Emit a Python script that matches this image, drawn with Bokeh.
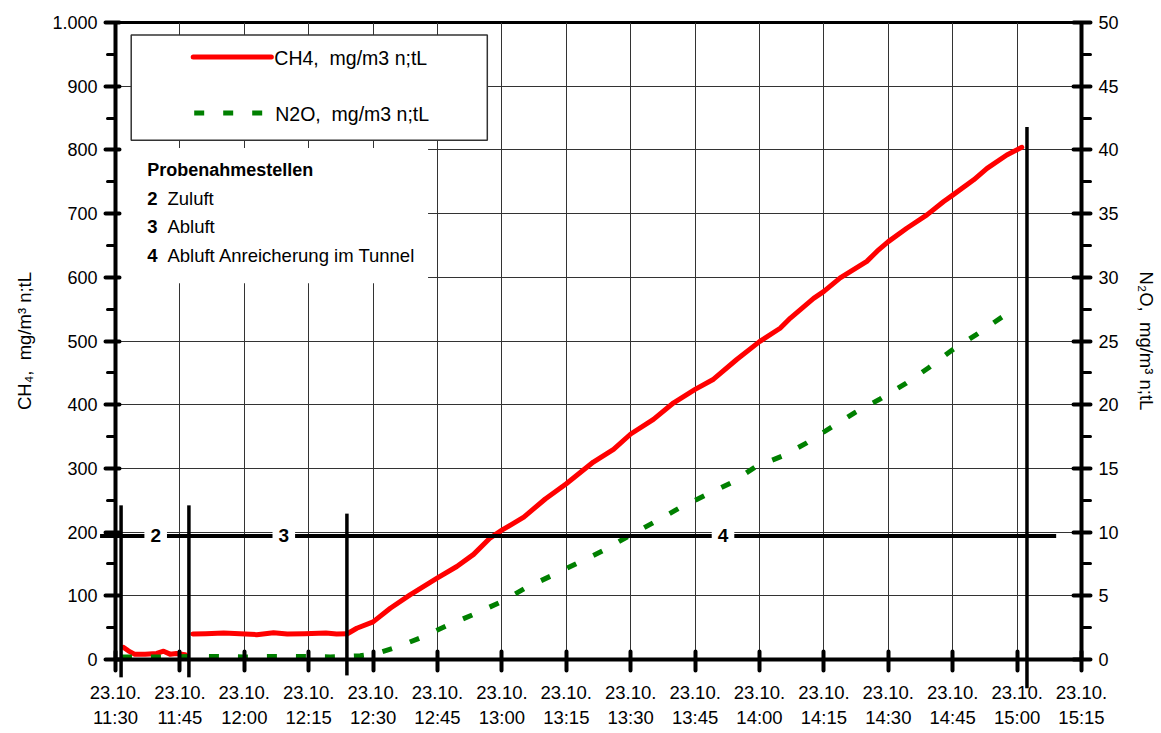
from bokeh.plotting import figure
from bokeh.models import LinearAxis, Range1d, FixedTicker, Label
from bokeh.core.properties import value
from bokeh.embed import file_html
from bokeh.resources import INLINE

FONT = "Liberation Sans, Arial, sans-serif"
NB = "\u00a0"

# ---------------- data ----------------
# x = minutes after 23.10. 11:30
tick_minutes = [0, 15, 30, 45, 60, 75, 90, 105, 120, 135, 150, 165, 180, 195, 210, 225]
tick_times = ["11:30", "11:45", "12:00", "12:15", "12:30", "12:45", "13:00", "13:15",
              "13:30", "13:45", "14:00", "14:15", "14:30", "14:45", "15:00", "15:15"]
tick_labels = ["23.10.\n" + t for t in tick_times]

ch4_ticks = [0, 100, 200, 300, 400, 500, 600, 700, 800, 900, 1000]
ch4_minor = [50, 150, 250, 350, 450, 550, 650, 750, 850, 950]
ch4_tick_labels = ["0", "100", "200", "300", "400", "500", "600", "700", "800", "900", "1.000"]
n2o_ticks = [0, 5, 10, 15, 20, 25, 30, 35, 40, 45, 50]
n2o_minor = [2.5, 7.5, 12.5, 17.5, 22.5, 27.5, 32.5, 37.5, 42.5, 47.5]

# CH4, mg/m3 (left axis) - sampling point 2 (Zuluft)
ch4_zuluft_t = [1.9, 3.0, 4.4, 6.9, 9.6, 11.2, 12.7, 14.2, 16.2]
ch4_zuluft = [19, 13.6, 8.4, 8.4, 9.5, 13, 8.4, 9.5, 7.4]
# sampling point 3 (Abluft)
ch4_abluft_t = [18.0, 21, 25.2, 29, 32.9, 36.8, 40, 44, 49, 51.5, 53.9]
ch4_abluft = [40, 40.5, 41.6, 40.5, 39, 42, 40, 40.5, 41.6, 40, 40.5]
# sampling point 4 (Abluft Anreicherung im Tunnel)
ch4_tunnel_t = [53.9, 56.2, 60, 64, 68.6, 75, 79.5, 83.4, 87.3, 90, 95.1, 100.1, 105, 111.3,
                116, 120, 125.3, 130, 135, 139.3, 144.7, 150, 154.8, 157.2, 162.6, 165, 168.8,
                175, 177.4, 180, 184.3, 189, 192.9, 195, 199.9, 203, 207.6, 211.1]
ch4_tunnel = [40, 49, 59, 80.5, 101.5, 128, 146, 165, 191, 203, 223.5, 252, 276, 310,
              330, 354, 377, 403, 424, 440, 471, 499, 520, 536, 567, 578, 599,
              625, 641, 656, 677, 698, 719, 729, 753, 771, 792, 804]

# N2O, mg/m3 (right axis)
n2o_t = [1.5, 10, 20, 30, 40, 50, 54, 57, 59.2, 62, 65.7, 71, 77.5, 83.8, 90, 95.4, 101.7,
         107.8, 113.6, 119.6, 125.6, 131.4, 137.4, 143.6, 149, 155.2, 161, 166.6, 172.3,
         178.1, 184, 189.4, 194.8, 200.5, 207.0]
n2o = [0.2, 0.2, 0.25, 0.2, 0.25, 0.2, 0.25, 0.3, 0.4, 0.6, 1.0, 1.7, 2.7, 3.6, 4.55, 5.6, 6.6,
       7.6, 8.55, 9.7, 10.8, 11.9, 12.9, 13.9, 15.1, 15.95, 17.0, 18.2, 19.4,
       20.45, 21.65, 22.9, 24.27, 25.5, 27.0]

# sampling point change markers
switch_t = [1.3, 17.1, 53.9, 212.3]
switch_bottom = [-28, -28, -25, -45]
switch_top = [242, 242, 229, 836]
section_names = ["2", "3", "4"]
section_label_t = [9.36, 39.2, 141.5]
section_bar_level = 194

legend_labels = ["CH4," + NB + " mg/m3 n;tL", "N2O," + NB + " mg/m3 n;tL"]
probe_title = "Probenahmestellen"
probe_ids = ["2", "3", "4"]
probe_names = ["Zuluft", "Abluft", "Abluft Anreicherung im Tunnel"]

# ---------------- figure ----------------
p = figure(frame_width=966, frame_height=637,
           x_range=Range1d(0, 225), y_range=Range1d(0, 1000),
           output_backend="svg", toolbar_location=None,
           min_border_left=115, min_border_right=80, min_border_top=22, min_border_bottom=72,
           background_fill_color="white", border_fill_color="white")
p.extra_y_ranges = {"n2o": Range1d(0, 50)}
p.outline_line_color = "black"
p.outline_line_width = 3

def style_axis(ax, size="18px"):
    ax.axis_line_color = "black"
    ax.axis_line_width = 4
    ax.major_tick_line_color = "black"
    ax.major_tick_line_width = 4
    ax.major_tick_line_cap = "round"
    ax.minor_tick_line_color = "black"
    ax.minor_tick_line_width = 3
    ax.minor_tick_line_cap = "round"
    ax.major_label_text_font = FONT
    ax.major_label_text_font_size = size
    ax.major_label_text_color = "black"
    ax.axis_label_text_font = FONT
    ax.axis_label_text_font_size = "18.5px"
    ax.axis_label_text_font_style = "normal"
    ax.axis_label_text_color = "black"

xa = p.xaxis[0]
style_axis(xa, "18.5px")
xa.ticker = FixedTicker(ticks=tick_minutes)
xa.major_label_overrides = dict(zip(tick_minutes, tick_labels))
xa.major_tick_in = 8
xa.major_tick_out = 11
xa.minor_tick_line_color = None
xa.major_label_standoff = 11

ya = p.yaxis[0]
style_axis(ya)
ya.ticker = FixedTicker(ticks=ch4_ticks, minor_ticks=ch4_minor)
ya.major_label_overrides = dict(zip(ch4_ticks, ch4_tick_labels))
ya.major_tick_in = 4
ya.major_tick_out = 10
ya.minor_tick_in = 0
ya.minor_tick_out = 8
ya.major_label_standoff = 8
ya.axis_label = "CH₄," + NB + " mg/m³ n;tL"
ya.axis_label_standoff = 14

ra = LinearAxis(y_range_name="n2o", ticker=FixedTicker(ticks=n2o_ticks, minor_ticks=n2o_minor),
                axis_label="N₂O," + NB + " mg/m³ n;tL")
style_axis(ra)
ra.major_tick_in = 8
ra.major_tick_out = 9
ra.minor_tick_in = 0
ra.minor_tick_out = 9
ra.major_label_standoff = 8
ra.axis_label_standoff = 14
p.add_layout(ra, "right")

for g in (p.xgrid[0], p.ygrid[0]):
    g.grid_line_color = "#333333"
    g.grid_line_width = 1
p.xgrid[0].ticker = xa.ticker
p.ygrid[0].ticker = ya.ticker

# ---------------- data lines ----------------
for tt, vv in ((ch4_zuluft_t, ch4_zuluft), (ch4_abluft_t, ch4_abluft), (ch4_tunnel_t, ch4_tunnel)):
    p.line(tt, vv, line_color="#ff0000", line_width=5, line_join="round", line_cap="round")
p.line(n2o_t, n2o, y_range_name="n2o", line_color="#008000", line_width=5, line_dash="10 19")

# ---------------- sampling-point markers ----------------
p.segment(x0=switch_t, y0=switch_bottom, x1=switch_t, y1=switch_top,
          line_color="black", line_width=3.5, level="annotation")
p.segment(x0=[-3.6], y0=[section_bar_level], x1=[219.1], y1=[section_bar_level],
          line_color="black", line_width=4, level="annotation")
for name, t in zip(section_names, section_label_t):
    p.add_layout(Label(x=t, y=section_bar_level, text=name, text_align="center",
                       text_baseline="middle", text_font=FONT, text_font_size="19px",
                       text_font_style="bold", text_color="black",
                       background_fill_color="white", padding=6, level="overlay"))

# ---------------- legend boxes ----------------
p.quad(left=[0.6], right=[72.8], bottom=[590.7], top=[802.8],
       fill_color="white", line_color=None)
p.quad(left=[3.66], right=[86.6], bottom=[815.3], top=[980.4],
       fill_color="white", line_color="#333333", line_width=1.5)
p.line([18.1, 36.3], [945.9, 945.9], line_color="#ff0000", line_width=5, line_cap="round")
p.line([18.33, 34.17], [857.8, 857.8], line_color="#008000", line_width=5, line_dash="10 19")
p.text(x=[37.0, 37.2], y=[943.5, 856.5], text=legend_labels, text_font=value(FONT),
       text_font_size="19.5px", text_baseline="middle", text_color="black")

p.text(x=[7.4], y=[769], text=[probe_title], text_font=value(FONT), text_font_size="18px",
       text_font_style="bold", text_baseline="middle", text_color="black")
p.text(x=[7.4, 7.4, 7.4], y=[723.5, 679.5, 634], text=probe_ids, text_font=value(FONT),
       text_font_size="18.5px", text_font_style="bold", text_baseline="middle", text_color="black")
p.text(x=[12.1, 12.1, 12.1], y=[723.5, 679.5, 634], text=probe_names, text_font=value(FONT),
       text_font_size="18.5px", text_baseline="middle", text_color="black")

open("out.html", "w").write(file_html(p, INLINE))
